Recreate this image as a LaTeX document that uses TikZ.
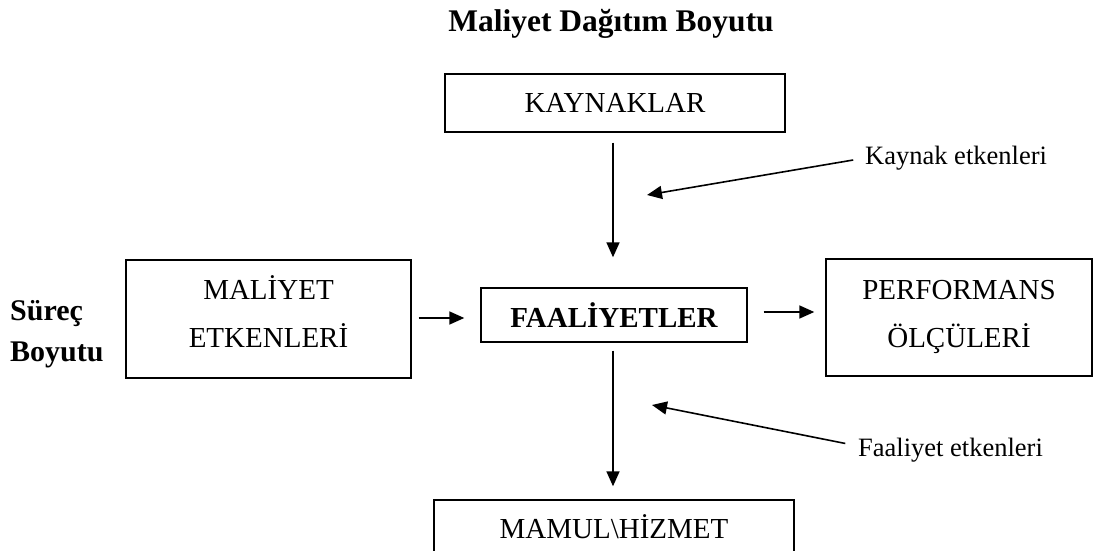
\documentclass[tikz,border=0pt]{standalone}
\usepackage{fontspec}
\setmainfont{Liberation Serif}
\usetikzlibrary{arrows.meta}
\begin{document}
\begin{tikzpicture}[x=1pt,y=-1pt,
  box/.style={draw, line width=1.4pt, inner sep=0pt, align=center},
  maintext/.style={font=\fontsize{29}{49}\selectfont},
  linetext/.style={font=\fontsize{29}{34}\selectfont, anchor=base, inner sep=0pt},
  lbl/.style={font=\fontsize{26.5}{32}\selectfont, inner sep=0pt, anchor=west},
  arr/.style={line width=1.6pt, -{Triangle[length=15pt,width=13pt]}}]
\useasboundingbox (0,0) rectangle (1093,551);
\node[font=\bfseries\fontsize{31.5}{36}\selectfont] (title) at (611,24) {Maliyet Dağıtım Boyutu};
\node[box, maintext, minimum width=340pt, minimum height=58pt] (kay) at (615,103) {KAYNAKLAR};
\node[box, font=\bfseries\fontsize{29}{34}\selectfont, minimum width=266pt, minimum height=54pt] (faal) at (614,315) {FAALİYETLER};
\node[box, minimum width=285pt, minimum height=118pt] (mal) at (268.5,319) {};
\node[linetext] (mal1) at (268.5,299) {MALİYET};
\node[linetext] (mal2) at (268.5,347) {ETKENLERİ};
\node[box, minimum width=266pt, minimum height=117pt] (perf) at (959,317.5) {};
\node[linetext] (perf1) at (959,299) {PERFORMANS};
\node[linetext] (perf2) at (959,347) {ÖLÇÜLERİ};
\node[box, maintext, minimum width=360pt, minimum height=54pt] (mam) at (614,527) {MAMUL\textbackslash HİZMET};
\node[font=\bfseries\fontsize{30}{41}\selectfont, align=left, anchor=west, inner sep=0pt] (surec) at (10,334) {Süreç\\Boyutu};
\node[lbl] (klbl) at (865,158) {Kaynak etkenleri};
\node[lbl] (flbl) at (858,450) {Faaliyet etkenleri};
\coordinate (ktip) at (647,195);
\coordinate (ftip) at (652,405);
\draw[arr, shorten <=10pt, shorten >=30pt] ([xshift=-2pt]kay.south) -- ([xshift=-2pt]kay.south |- faal.north);
\draw[arr, shorten <=8pt, shorten >=13pt] ([xshift=-1pt]faal.south) -- ([xshift=-1pt]faal.south |- mam.north);
\draw[arr, shorten <=7pt, shorten >=16pt] ([yshift=-3pt]mal.east |- faal.west) -- ([yshift=-3pt]faal.west);
\draw[arr, shorten <=16pt, shorten >=11pt] ([yshift=3pt]faal.east) -- ([yshift=3pt]faal.east -| perf.west);
\draw[arr, shorten <=12pt] (klbl.west) -- (ktip);
\draw[arr, shorten <=13pt] ([yshift=4pt]flbl.west) -- (ftip);
\end{tikzpicture}
\end{document}
